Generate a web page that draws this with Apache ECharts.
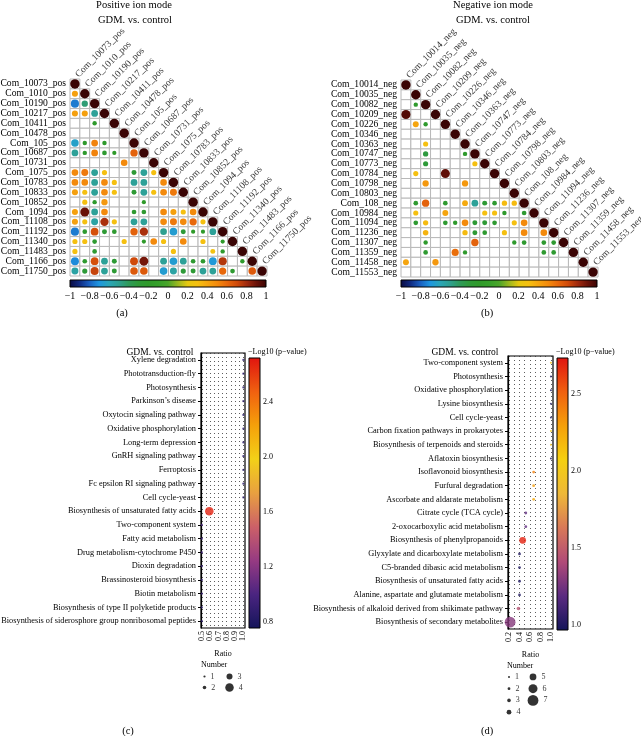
<!DOCTYPE html>
<html>
<head>
<meta charset="utf-8">
<script src="https://cdn.jsdelivr.net/npm/echarts@6/dist/echarts.min.js"></script>
<style>
  html, body { margin: 0; padding: 0; background: #fff; }
  #chart { width: 641px; height: 736px; }
</style>
</head>
<body>
<div id="chart"></div>
<script>
// ---- data ----
const posNames = ['Com_10073_pos', 'Com_1010_pos', 'Com_10190_pos', 'Com_10217_pos', 'Com_10411_pos',
  'Com_10478_pos', 'Com_105_pos', 'Com_10687_pos', 'Com_10731_pos', 'Com_1075_pos', 'Com_10783_pos',
  'Com_10833_pos', 'Com_10852_pos', 'Com_1094_pos', 'Com_11108_pos', 'Com_11192_pos', 'Com_11340_pos',
  'Com_11483_pos', 'Com_1166_pos', 'Com_11750_pos']
// lower triangle, 0 = blank cell
const posCorr = [
  [1],
  [0.42, 1],
  [-0.75, -0.45, 1],
  [0.42, 0.42, -0.52, 1],
  [0, 0, -0.22, 0, 1],
  [0, 0, 0, 0, 0, 1],
  [-0.64, -0.22, 0.52, -0.22, 0, 0, 1],
  [-0.52, -0.22, 0.52, -0.25, -0.2, 0, 0.62, 1],
  [0, 0, 0, 0, 0, 0.5, 0, 0, 1],
  [0.5, 0.55, -0.52, 0.3, 0, 0, -0.28, -0.52, 0.3, 1],
  [0.5, 0.5, -0.52, 0.5, 0.3, 0, -0.52, -0.52, 0, 0.5, 1],
  [0.42, 0.3, -0.52, 0.5, 0.3, 0, -0.28, -0.52, 0.3, 0.5, 0.55, 1],
  [0, 0.3, -0.22, 0.45, 0, 0, 0, -0.2, 0, 0, 0, 0, 1],
  [0.42, 0.9, -0.52, 0.5, 0, 0, -0.25, -0.25, 0, 0.5, 0.42, 0.3, 0.5, 1],
  [0.42, 0.3, -0.55, 0.78, 0.3, 0, -0.52, -0.52, 0, 0.5, 0.55, 0.5, 0.6, 0.3, 1],
  [-0.75, -0.25, 0.68, -0.28, -0.25, 0, 0.62, 0.78, 0, -0.5, -0.66, -0.28, -0.2, -0.2, -0.52, 1],
  [0.3, 0.3, -0.25, 0, 0, 0.3, 0, -0.2, 0.5, 0.3, 0, 0.5, 0, 0.3, 0, -0.2, 1],
  [0.3, 0, -0.25, 0, 0, 0, 0, 0, 0, 0, 0.3, 0, 0, 0, 0.28, -0.22, 0, 1],
  [-0.72, -0.25, 0.68, -0.52, -0.28, 0, 0.7, 0.88, 0, -0.52, -0.66, -0.52, -0.25, -0.25, -0.68, 0.76, 0, -0.22, 1],
  [-0.55, -0.3, 0.72, -0.52, -0.28, 0, 0.65, 0.65, 0, -0.66, -0.55, -0.3, -0.28, -0.52, -0.52, 0.6, -0.25, 0, 0.65, 1]
]

const negNames = ['Com_10014_neg', 'Com_10035_neg', 'Com_10082_neg', 'Com_10209_neg', 'Com_10226_neg',
  'Com_10346_neg', 'Com_10363_neg', 'Com_10747_neg', 'Com_10773_neg', 'Com_10784_neg', 'Com_10798_neg',
  'Com_10803_neg', 'Com_108_neg', 'Com_10984_neg', 'Com_11094_neg', 'Com_11236_neg', 'Com_11307_neg',
  'Com_11359_neg', 'Com_11458_neg', 'Com_11553_neg']
const negCorr = [
  [1],
  [0, 1],
  [0, -0.22, 1],
  [0.95, 0, 0, 1],
  [0, 0.4, -0.22, 0, 1],
  [0, 0, 0, 0, 0, 1],
  [0, 0, 0.3, 0, 0, 0, 1],
  [0, 0, -0.32, 0, 0, 0, -0.22, 1],
  [0, 0, -0.3, 0, 0, 0, 0, 0.3, 1],
  [0, 0.3, 0, 0, 0.92, 0, 0, 0, 0, 1],
  [0, 0, 0.45, 0, 0, 0, 0.45, 0, 0, 0, 1],
  [0, 0, 0, 0, 0, 0, 0, 0, 0, 0, 0, 1],
  [0, -0.25, 0.62, 0, -0.25, 0, 0.38, -0.52, -0.28, -0.25, 0.32, 0.32, 1],
  [0, 0.3, 0, 0, 0.4, 0, 0, 0, 0.3, 0.3, -0.22, 0, -0.25, 1],
  [0, -0.25, 0.32, 0, -0.25, -0.22, 0.5, -0.28, -0.28, -0.25, 0, 0.3, 0.5, 0, 1],
  [0, 0, 0.35, 0, 0, 0, 0.32, -0.28, -0.25, 0, 0.3, 0, 0.5, 0, 0.5, 1],
  [0, 0, -0.22, 0, 0, 0, 0, 0.62, 0, 0, 0, -0.22, -0.25, 0, -0.25, -0.25, 1],
  [0, 0, -0.25, 0, 0, 0.58, -0.22, 0, 0, 0, 0, 0, 0, 0, -0.25, -0.25, 0, 1],
  [0.4, 0, 0, 0.45, 0, 0, 0, 0, 0, 0, 0, 0, 0, 0, 0, 0, 0, 0, 1],
  [0, 0, 0, 0, 0, 0, 0, 0, 0, 0, 0, 0, 0, 0, 0, 0, 0, 0, 0, 1]
]

const pathC = ['Xylene degradation', 'Phototransduction-fly', 'Photosynthesis', 'Parkinson\u2019s disease',
  'Oxytocin signaling pathway', 'Oxidative phosphorylation', 'Long-term depression', 'GnRH signaling pathway',
  'Ferroptosis', 'Fc epsilon RI signaling pathway', 'Cell cycle-yeast', 'Biosynthesis of unsaturated fatty acids',
  'Two-component system', 'Fatty acid metabolism', 'Drug metabolism-cytochrome P450', 'Dioxin degradation',
  'Brassinosteroid biosynthesis', 'Biotin metabolism', 'Biosynthesis of type II polyketide products',
  'Biosynthesis of siderosphore group nonribosomal peptides']
const ratioC = [1, 1, 1, 1, 1, 1, 1, 1, 1, 1, 1, 0.59, 0.5, 0.5, 0.5, 0.5, 0.5, 0.5, 0.5, 0.5]
const logpC = [0.85, 0.85, 0.85, 0.85, 0.85, 0.85, 0.85, 0.85, 0.85, 0.85, 0.85, 2.68, 1.0, 0.95, 0.95, 0.9, 0.9, 0.9, 0.85, 0.85]
const numC = [1, 1, 1, 1, 1, 1, 1, 1, 1, 1, 1, 4, 1, 1, 1, 1, 1, 1, 1, 1]

const pathD = ['Two-component system', 'Photosynthesis', 'Oxidative phosphorylation', 'Lysine biosynthesis',
  'Cell cycle-yeast', 'Carbon fixation pathways in prokaryotes', 'Biosynthesis of terpenoids and steroids',
  'Aflatoxin biosynthesis', 'Isoflavonoid biosynthesis', 'Furfural degradation', 'Ascorbate and aldarate metabolism',
  'Citrate cycle (TCA cycle)', '2-oxocarboxylic acid metabolism', 'Biosynthesis of phenylpropanoids',
  'Glyxylate and dicarboxylate metabolism', 'C5-branded dibasic acid metabolism',
  'Biosynthesis of unsaturated fatty acids', 'Alanine, aspartate and glutamate metabolism',
  'Biosynthesis of alkaloid derived from shikimate pathway', 'Biosynthesis of secondary metabolites']
const ratioD = [1, 1, 1, 1, 1, 1, 1, 1, 0.67, 0.67, 0.67, 0.52, 0.52, 0.46, 0.4, 0.4, 0.4, 0.4, 0.38, 0.22]
const logpD = [2.15, 1.0, 1.0, 1.0, 1.0, 2.1, 2.0, 1.0, 2.4, 2.3, 2.25, 1.2, 1.2, 2.7, 1.0, 1.0, 1.0, 1.0, 1.45, 1.3]
const numD = [1, 1, 1, 1, 1, 1, 1, 1, 2, 2, 2, 2, 2, 5, 2, 2, 2, 2, 3, 7]

const ratioTicksC = [0.5, 0.6, 0.7, 0.8, 0.9, 1.0]
const ratioTicksD = [0.2, 0.4, 0.6, 0.8, 1.0]
const pTicksC = [0.8, 1.2, 1.6, 2.0, 2.4]
const pTicksD = [1.0, 1.5, 2.0, 2.5]
const legendNumC = [1, 2, 3, 4]
const legendNumD = [1, 2, 3, 4, 5, 6, 7]

// ---- styles ----
const SERIF = '"Liberation Serif", "DejaVu Serif", serif'
const corrColors = ['#0a0a40', '#102a80', '#1a5fc0', '#1e96e0', '#2aa6b8', '#2ea090', '#2e9a5a', '#2e9a38',
  '#2f9a2a', '#35a02a', '#4aa52a', '#9ab820', '#e6c810', '#f5c010', '#f5a50f', '#f38a0c', '#e8680c', '#d04a0a',
  '#a02a0e', '#6a1208', '#3a0404']
const pColorsC = ['#14155a', '#4a2480', '#963a82', '#cc6068', '#e8a040', '#f2d018', '#f5a00a', '#f06010', '#e0140f']
const pColorsD = ['#14155a', '#5a2a80', '#b04a78', '#d87858', '#eeb838', '#f5d010', '#f5a00a', '#f06010', '#e0140f']
const pRangeC = [0.756, 2.72]
const pRangeD = [0.967, 2.736]
const sizeC = [0, 2.2, 3.6, 6, 8.5]
const sizeD = [0, 2, 2.8, 3.6, 4.8, 6.8, 9, 10.8]

function lowerCells (n) {
  const out = []
  for (let i = 0; i < n; i++) for (let j = 0; j <= i; j++) out.push([j, i])
  return out
}
function corrDots (m) {
  const out = []
  m.forEach((row, i) => row.forEach((v, j) => { if (v !== 0) out.push([j, i, v]) }))
  return out
}
function cellRender (params, api) {
  const c = api.coord([api.value(0), api.value(1)])
  const s = api.size([1, 1])
  return {
    type: 'rect',
    shape: { x: c[0] - s[0] / 2, y: c[1] - s[1] / 2, width: s[0], height: s[1] },
    style: { fill: '#fff', stroke: '#b8b8b8', lineWidth: 1 }
  }
}
function barRender (colors, horizontal) {
  return function (params, api) {
    const p0 = api.coord([api.value(0), api.value(1)])
    const p1 = api.coord([api.value(2), api.value(3)])
    const stops = colors.map((c, i) => ({ offset: i / (colors.length - 1), color: c }))
    const grad = horizontal
      ? new echarts.graphic.LinearGradient(0, 0, 1, 0, stops)
      : new echarts.graphic.LinearGradient(0, 1, 0, 0, stops)
    return {
      type: 'rect',
      shape: { x: Math.min(p0[0], p1[0]), y: Math.min(p0[1], p1[1]), width: Math.abs(p1[0] - p0[0]), height: Math.abs(p1[1] - p0[1]) },
      style: { fill: grad, stroke: '#000', lineWidth: 1 }
    }
  }
}
const minus = s => String(s).replace('-', '\u2212')
const txt = (text, x, y, size, align) => ({
  type: 'text', x: x, y: y, silent: true,
  style: { text: text, font: size + 'px ' + SERIF, fill: '#000', align: align || 'center', verticalAlign: 'middle' }
})
const corrAxisLabel = { fontFamily: SERIF, fontSize: 9.6, color: '#000', margin: 4, interval: 0 }
const pathAxisLabel = { fontFamily: SERIF, fontSize: 8.3, color: '#000', margin: 5, interval: 0 }
const dotted = { show: true, lineStyle: { type: [1, 3], color: '#333', width: 0.8 } }
const G = (left, top, width, height, extra) => Object.assign({ left, top, width, height, outerBoundsMode: 'none', containLabel: false }, extra || {})

function corrSeries (names, matrix, grid) {
  return [
    { type: 'custom', xAxisIndex: grid, yAxisIndex: grid, data: lowerCells(names.length), renderItem: cellRender, silent: true },
    { type: 'scatter', xAxisIndex: grid, yAxisIndex: grid, data: corrDots(matrix),
      symbolSize: v => 9.4 * Math.sqrt(Math.abs(v[2])), itemStyle: { opacity: 1 } },
    { type: 'scatter', xAxisIndex: grid, yAxisIndex: grid, silent: true,
      data: names.map((n, i) => ({ value: [i, i], name: n })),
      symbolSize: 0.1, itemStyle: { color: 'rgba(0,0,0,0)' },
      label: { show: true, formatter: '{b}', position: [2, -8], rotate: 45, align: 'left', verticalAlign: 'middle',
        fontFamily: SERIF, fontSize: 9.6, color: '#000' } }
  ]
}

function ratioAxis (grid, min, max, ticks) {
  return {
    gridIndex: grid, type: 'value', min: min, max: max, name: 'Ratio', nameLocation: 'middle', nameGap: 22,
    nameTextStyle: { fontFamily: SERIF, fontSize: 8, color: '#000' },
    axisLine: { lineStyle: { color: '#000', width: 1.2 } },
    axisTick: { customValues: ticks, length: 2, lineStyle: { color: '#000' } },
    axisLabel: { customValues: ticks, rotate: 90, formatter: v => v.toFixed(1), fontFamily: SERIF, fontSize: 8, color: '#000', margin: 3 },
    minorTick: { show: false, splitNumber: 2 },
    splitLine: dotted,
    minorSplitLine: dotted
  }
}
function pathAxis (grid, names) {
  return {
    gridIndex: grid, type: 'category', data: names, inverse: true,
    axisLine: { lineStyle: { color: '#000', width: 1.2 } },
    axisTick: { show: true, alignWithLabel: true, length: 3, lineStyle: { color: '#000' } },
    axisLabel: pathAxisLabel, splitLine: { show: false }
  }
}
function pBarAxis (grid, range, ticks) {
  return {
    gridIndex: grid, type: 'value', position: 'right', min: range[0], max: range[1], axisLine: { show: false },
    axisTick: { show: true, customValues: ticks, length: 3, lineStyle: { color: '#000' } },
    axisLabel: { customValues: ticks, formatter: v => v.toFixed(1), fontFamily: SERIF, fontSize: 8, color: '#000', margin: 3 },
    splitLine: { show: false }
  }
}
function legendSeries (grid, nums, rows, sizes) {
  return {
    type: 'scatter', xAxisIndex: grid, yAxisIndex: grid, silent: true,
    data: nums.map(n => [Math.floor((n - 1) / rows), (n - 1) % rows, n]),
    symbolSize: v => sizes[v[2]], itemStyle: { color: '#000' },
    label: { show: true, position: 'right', distance: 5, formatter: p => p.data[2], fontFamily: SERIF, fontSize: 8, color: '#000' }
  }
}

const chart = echarts.init(document.getElementById('chart'))
chart.setOption({
  animation: false,
  backgroundColor: '#fff',
  textStyle: { fontFamily: SERIF },
  grid: [
    G(70, 79, 197, 197),
    G(401, 80, 197, 197),
    G(70, 280, 196, 7),
    G(401, 280, 196, 7),
    G(201, 353, 44, 275, { show: true, borderColor: '#000', borderWidth: 1.2 }),
    G(508, 356, 45, 273, { show: true, borderColor: '#000', borderWidth: 1.2 }),
    G(249, 358, 11, 270),
    G(557, 358, 11, 272),
    G(192, 671, 50, 22),
    G(497, 671, 48, 47)
  ],
  xAxis: [
    { gridIndex: 0, type: 'category', data: posNames, show: false },
    { gridIndex: 1, type: 'category', data: negNames, show: false },
    { gridIndex: 2, type: 'value', min: -1, max: 1, interval: 0.2, axisLine: { show: false }, axisTick: { show: false },
      splitLine: { show: false }, axisLabel: { ...corrAxisLabel, fontSize: 10, formatter: v => minus(+v.toFixed(1)) } },
    { gridIndex: 3, type: 'value', min: -1, max: 1, interval: 0.2, axisLine: { show: false }, axisTick: { show: false },
      splitLine: { show: false }, axisLabel: { ...corrAxisLabel, fontSize: 10, formatter: v => minus(+v.toFixed(1)) } },
    ratioAxis(4, 0.49, 1.02, ratioTicksC),
    ratioAxis(5, 0.18, 1.04, ratioTicksD),
    { gridIndex: 6, type: 'value', min: 0, max: 1, show: false },
    { gridIndex: 7, type: 'value', min: 0, max: 1, show: false },
    { gridIndex: 8, type: 'category', data: ['0', '1'], show: false },
    { gridIndex: 9, type: 'category', data: ['0', '1'], show: false }
  ],
  yAxis: [
    { gridIndex: 0, type: 'category', data: posNames, inverse: true, axisLine: { show: false }, axisTick: { show: false }, axisLabel: corrAxisLabel },
    { gridIndex: 1, type: 'category', data: negNames, inverse: true, axisLine: { show: false }, axisTick: { show: false }, axisLabel: corrAxisLabel },
    { gridIndex: 2, type: 'value', min: 0, max: 1, show: false },
    { gridIndex: 3, type: 'value', min: 0, max: 1, show: false },
    pathAxis(4, pathC),
    pathAxis(5, pathD),
    pBarAxis(6, pRangeC, pTicksC),
    pBarAxis(7, pRangeD, pTicksD),
    { gridIndex: 8, type: 'category', data: ['0', '1'], inverse: true, show: false },
    { gridIndex: 9, type: 'category', data: ['0', '1', '2', '3'], inverse: true, show: false }
  ],
  visualMap: [
    { type: 'continuous', show: false, min: -1, max: 1, dimension: 2, seriesIndex: [1, 4], inRange: { color: corrColors } },
    { type: 'continuous', show: false, min: pRangeC[0], max: pRangeC[1], dimension: 2, seriesIndex: 8, inRange: { color: pColorsC } },
    { type: 'continuous', show: false, min: pRangeD[0], max: pRangeD[1], dimension: 2, seriesIndex: 9, inRange: { color: pColorsD } }
  ],
  series: [
    ...corrSeries(posNames, posCorr, 0),
    ...corrSeries(negNames, negCorr, 1),
    { type: 'custom', xAxisIndex: 2, yAxisIndex: 2, data: [[-1, 0, 1, 1]], encode: { x: [0, 2], y: [1, 3] }, renderItem: barRender(corrColors, true), silent: true },
    { type: 'custom', xAxisIndex: 3, yAxisIndex: 3, data: [[-1, 0, 1, 1]], encode: { x: [0, 2], y: [1, 3] }, renderItem: barRender(corrColors, true), silent: true },
    { type: 'scatter', xAxisIndex: 4, yAxisIndex: 4, data: pathC.map((p, i) => [ratioC[i], i, logpC[i], numC[i]]),
      symbolSize: v => sizeC[v[3]], clip: true },
    { type: 'scatter', xAxisIndex: 5, yAxisIndex: 5, data: pathD.map((p, i) => [ratioD[i], i, logpD[i], numD[i]]),
      symbolSize: v => sizeD[v[3]], clip: true },
    { type: 'custom', xAxisIndex: 6, yAxisIndex: 6, data: [[0, pRangeC[0], 1, pRangeC[1]]], encode: { x: [0, 2], y: [1, 3] }, renderItem: barRender(pColorsC, false), silent: true },
    { type: 'custom', xAxisIndex: 7, yAxisIndex: 7, data: [[0, pRangeD[0], 1, pRangeD[1]]], encode: { x: [0, 2], y: [1, 3] }, renderItem: barRender(pColorsD, false), silent: true },
    legendSeries(8, legendNumC, 2, sizeC),
    legendSeries(9, legendNumD, 4, sizeD)
  ],
  graphic: [
    txt('Positive ion mode', 134, 5, 10.5),
    txt('GDM. vs. control', 135, 20, 10.5),
    txt('Negative ion mode', 493, 5, 10.5),
    txt('GDM. vs. control', 493, 20, 10.5),
    txt('(a)', 122, 313, 10.5),
    txt('(b)', 487, 313, 10.5),
    txt('GDM. vs. control', 160, 352, 9.5),
    txt('GDM. vs. control', 465, 352, 9.5),
    txt('\u2212Log10 (p\u2212value)', 248, 352, 8, 'left'),
    txt('\u2212Log10 (p\u2212value)', 556, 352, 8, 'left'),
    txt('Number', 201, 665, 8, 'left'),
    txt('Number', 507, 666, 8, 'left'),
    txt('(c)', 128, 731, 10.5),
    txt('(d)', 487, 731, 10.5)
  ]
})
</script>
</body>
</html>
